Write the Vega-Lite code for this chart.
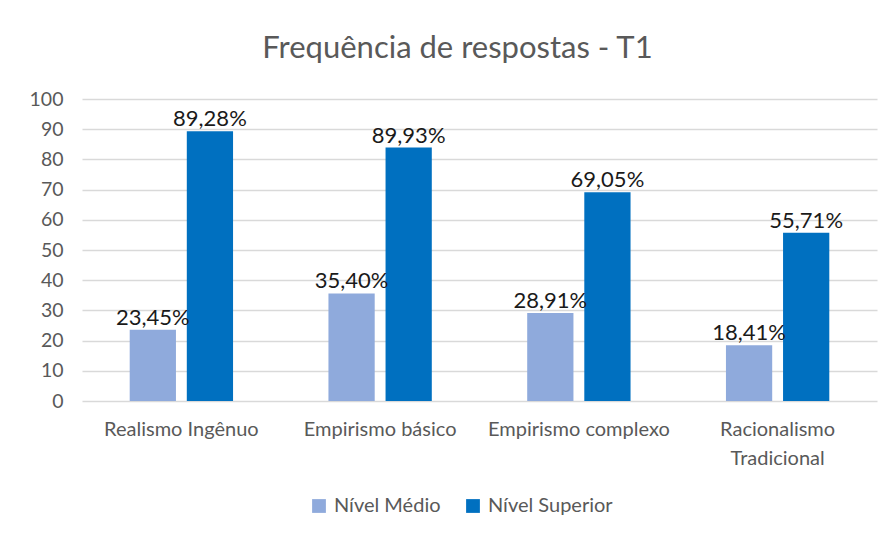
{
  "$schema": "https://vega.github.io/schema/vega-lite/v6.json",
  "autosize": {"type": "none"},
  "padding": {"left": 82, "top": 99, "right": 15, "bottom": 138},
  "width": 795,
  "height": 302,
  "background": "white",
  "title": {
    "text": "Frequência de respostas - T1",
    "font": "Lato",
    "fontSize": 31,
    "fontWeight": "normal",
    "color": "#595959",
    "anchor": "middle",
    "dx": -22,
    "offset": 24
  },
  "data": {
    "values": [
      {"categoria": "Realismo Ingênuo", "nivel": "Nível Médio", "valor": 23.6, "rotulo": "23,45%"},
      {"categoria": "Realismo Ingênuo", "nivel": "Nível Superior", "valor": 89.3, "rotulo": "89,28%"},
      {"categoria": "Empirismo básico", "nivel": "Nível Médio", "valor": 35.6, "rotulo": "35,40%"},
      {"categoria": "Empirismo básico", "nivel": "Nível Superior", "valor": 83.9, "rotulo": "89,93%"},
      {"categoria": "Empirismo complexo", "nivel": "Nível Médio", "valor": 29.1, "rotulo": "28,91%"},
      {"categoria": "Empirismo complexo", "nivel": "Nível Superior", "valor": 69.1, "rotulo": "69,05%"},
      {"categoria": "Racionalismo Tradicional", "nivel": "Nível Médio", "valor": 18.5, "rotulo": "18,41%"},
      {"categoria": "Racionalismo Tradicional", "nivel": "Nível Superior", "valor": 55.7, "rotulo": "55,71%"}
    ]
  },
  "encoding": {
    "x": {
      "field": "categoria",
      "type": "nominal",
      "sort": null,
      "title": null,
      "scale": {"paddingInner": 0.48, "paddingOuter": 0.24},
      "axis": {
        "labelAngle": 0,
        "labelFont": "Lato",
        "labelFontSize": 20,
        "labelColor": "#595959",
        "labelPadding": 18,
        "labelLineHeight": 29,
        "labelBaseline": "top",
        "labelLimit": 0,
        "domain": false,
        "ticks": false,
        "labelExpr": "datum.label == 'Racionalismo Tradicional' ? ['Racionalismo', 'Tradicional'] : datum.label"
      }
    },
    "xOffset": {"field": "nivel", "type": "nominal", "scale": {"paddingInner": 0.19}},
    "y": {
      "field": "valor",
      "type": "quantitative",
      "title": null,
      "scale": {"domain": [0, 100]},
      "axis": {
        "values": [0, 10, 20, 30, 40, 50, 60, 70, 80, 90, 100],
        "labelFont": "Lato",
        "labelFontSize": 19.5,
        "labelColor": "#595959",
        "labelPadding": 19,
        "domain": false,
        "ticks": false,
        "gridColor": "#d9d9d9",
        "gridWidth": 1.5
      }
    }
  },
  "layer": [
    {
      "mark": {"type": "bar"},
      "encoding": {
        "color": {
          "field": "nivel",
          "type": "nominal",
          "scale": {"domain": ["Nível Médio", "Nível Superior"], "range": ["#8FAADC", "#0070C0"]},
          "legend": {
            "title": null,
            "orient": "none",
            "direction": "horizontal",
            "legendX": 227,
            "legendY": 397,
            "symbolType": "square",
            "symbolSize": 190,
            "symbolStrokeWidth": 0,
            "labelFont": "Lato",
            "labelFontSize": 20,
            "labelColor": "#595959",
            "labelOffset": 5,
            "columnPadding": 22
          }
        }
      }
    },
    {
      "mark": {"type": "text", "baseline": "bottom", "dy": 0, "font": "Lato", "fontSize": 22, "color": "#1a1a1a"},
      "encoding": {"text": {"field": "rotulo"}}
    }
  ],
  "config": {"view": {"stroke": null}}
}
